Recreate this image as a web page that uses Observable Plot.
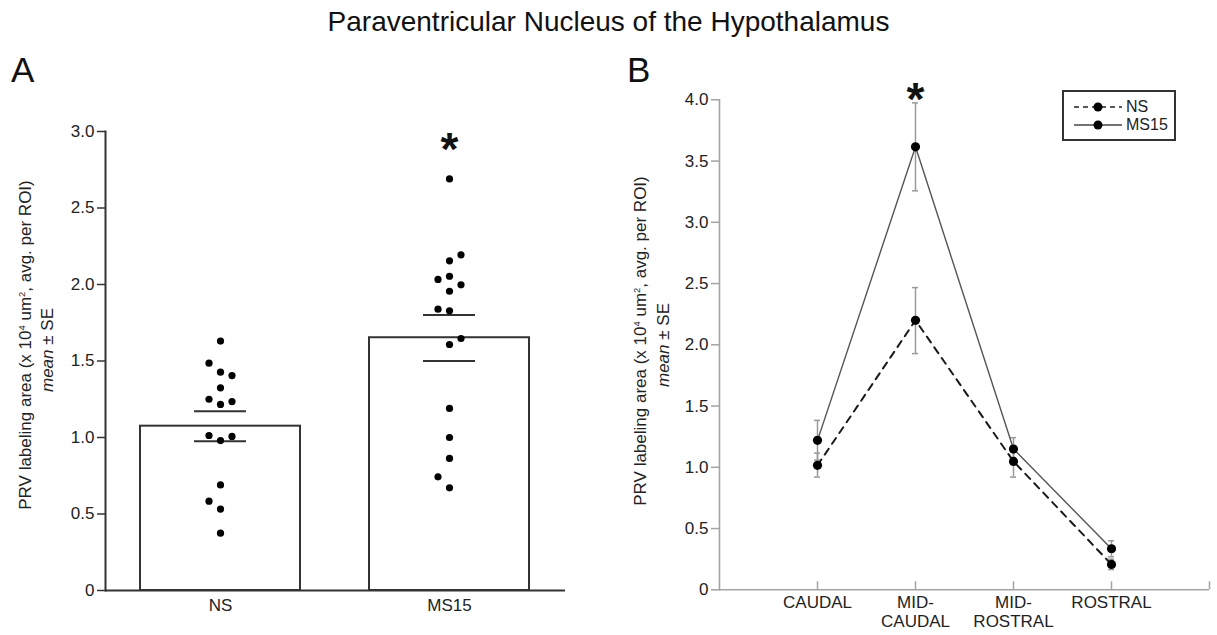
<!DOCTYPE html>
<html><head><meta charset="utf-8">
<script src="https://cdn.jsdelivr.net/npm/d3@7"></script>
<script src="https://cdn.jsdelivr.net/npm/@observablehq/plot@0.6"></script>
<style>
body{margin:0;background:#fff;font-family:"Liberation Sans",Arial,sans-serif;}
#fig{position:relative;width:1217px;height:635px;overflow:hidden;background:#fff;}
.abs{position:absolute;}
#title{left:0;width:1217px;top:8px;text-align:center;font-size:28px;line-height:28px;color:#111;}
.letter{font-size:35px;line-height:35px;color:#111;}
.ylab{position:absolute;white-space:nowrap;font-size:17px;line-height:1;color:#222;transform:translate(-50%,-50%) rotate(-90deg);}
.ylab sup{font-size:0.55em;vertical-align:0.6em;line-height:0;}
#legend{left:1062px;top:90px;width:114px;height:51px;border:2px solid #333;box-sizing:border-box;}
.lrow{position:absolute;left:0;height:16px;display:flex;align-items:center;font-size:16px;color:#222;}
.lrow svg{margin-left:10px;margin-right:4px;}
</style></head>
<body><div id="fig">
<div id="title" class="abs">Paraventricular Nucleus of the Hypothalamus</div>
<div class="abs letter" style="left:11px;top:52px">A</div>
<div class="abs letter" style="left:627px;top:52px">B</div>
<div class="ylab" style="left:25px;top:345px">PRV labeling area (x 10<sup>4</sup> um<sup>2</sup>, avg. per ROI)</div>
<div class="ylab" style="left:47px;top:350px"><i>mean</i> ± SE</div>
<div class="ylab" style="left:640px;top:341px">PRV labeling area (x 10<sup>4</sup> um<sup>2</sup>, avg. per ROI)</div>
<div class="ylab" style="left:663px;top:345px"><i>mean</i> ± SE</div>
<div id="panelA" class="abs" style="left:0;top:100px"></div>
<div id="panelB" class="abs" style="left:640px;top:60px"></div>
<div id="legend" class="abs">
  <div class="lrow" style="top:7px"><svg width="48" height="12"><line x1="0" y1="6" x2="48" y2="6" stroke="#222" stroke-width="1.6" stroke-dasharray="5,4"/><circle cx="24" cy="6" r="4.5" fill="#000"/></svg><span>NS</span></div>
  <div class="lrow" style="top:25px"><svg width="48" height="12"><line x1="0" y1="6" x2="48" y2="6" stroke="#444" stroke-width="1.4"/><circle cx="24" cy="6" r="4.5" fill="#000"/></svg><span>MS15</span></div>
</div>
</div>
<script>
// ---------- Panel A data ----------
const groups = ["NS", "MS15"];
const groupMeans = [1.074, 1.652];
const groupSeLow = [0.976, 1.50];
const groupSeHigh = [1.172, 1.80];
const nsValues = [1.63, 1.486, 1.427, 1.405, 1.325, 1.25, 1.216, 1.235, 1.013, 1.007, 0.98, 0.69, 0.584, 0.532, 0.375];
const nsColumns = [0, -1, 0, 1, 0, -1, 0, 1, -1, 1, 0, 0, -1, 0, 0];
const ms15Values = [2.69, 2.194, 2.155, 2.033, 2.054, 1.998, 1.956, 1.839, 1.828, 1.647, 1.608, 1.19, 1.0, 0.863, 0.743, 0.671];
const ms15Columns = [0, 1, 0, -1, 0, 1, 0, -1, 0, 1, 0, 0, 0, 0, -1, 0];
const yTicksA = [0, 0.5, 1.0, 1.5, 2.0, 2.5, 3.0];
const sigA = [{group: "MS15", y: 2.88}];

// ---------- Panel B data ----------
const regions = ["CAUDAL", "MID-CAUDAL", "MID-ROSTRAL", "ROSTRAL"];
const regionLabels = ["CAUDAL", "MID-\nCAUDAL", "MID-\nROSTRAL", "ROSTRAL"];
const nsMean = [1.016, 2.20, 1.048, 0.207];
const nsLow = [0.92, 1.928, 0.92, 0.165];
const nsHigh = [1.116, 2.467, 1.176, 0.25];
const msMean = [1.22, 3.616, 1.149, 0.335];
const msLow = [1.06, 3.257, 1.056, 0.27];
const msHigh = [1.383, 3.975, 1.242, 0.40];
const yTicksB = [0, 0.5, 1.0, 1.5, 2.0, 2.5, 3.0, 3.5, 4.0];
const sigB = [{region: "MID-CAUDAL", y: 4.0}];

const font = '"Liberation Sans", Arial, sans-serif';
const fmt = d => d === 0 ? "0" : d.toFixed(1);

// ---------- Panel A ----------
const bars = groups.map((g, i) => ({group: g, mean: groupMeans[i], lo: groupSeLow[i], hi: groupSeHigh[i]}));
const points = [
  ...nsValues.map((v, i) => ({group: "NS", value: v, col: nsColumns[i]})),
  ...ms15Values.map((v, i) => ({group: "MS15", value: v, col: ms15Columns[i]}))
];
const dark = "#333";
const plotA = Plot.plot({
  width: 580, height: 535,
  marginLeft: 105, marginRight: 15, marginTop: 31, marginBottom: 45,
  style: {fontFamily: font, fontSize: "17px", color: "#222", background: "transparent", overflow: "visible"},
  x: {domain: groups, paddingInner: 0.30, paddingOuter: 0.152, label: null},
  y: {domain: [0, 3], label: null},
  marks: [
    Plot.barY(bars, {x: "group", y: "mean", fill: "white", stroke: dark, strokeWidth: 2}),
    Plot.tickY(bars, {x: "group", y: "lo", insetLeft: 54, insetRight: 54, stroke: dark, strokeWidth: 2}),
    Plot.tickY(bars, {x: "group", y: "hi", insetLeft: 54, insetRight: 54, stroke: dark, strokeWidth: 2}),
    ...[-1, 0, 1].map(c => Plot.dot(points.filter(p => p.col === c), {x: "group", y: "value", dx: c * 11.5, r: 3.6, fill: "#000", stroke: null})),
    Plot.ruleY([0], {stroke: dark, strokeWidth: 2}),
    Plot.frame({anchor: "left", stroke: dark, strokeWidth: 2}),
    Plot.axisY({ticks: yTicksA, tickFormat: fmt, tickSize: 8, tickPadding: 3, stroke: dark, strokeWidth: 1.5, fill: "#222", fontSize: 17, label: null}),
    Plot.axisX({tickSize: 0, tickPadding: 8, fill: "#222", fontSize: 17, label: null}),
    Plot.text(sigA, {x: "group", y: "y", text: () => "*", fontSize: 46, fontWeight: "bold", fill: "#111", lineAnchor: "middle"})
  ]
});
document.getElementById("panelA").append(plotA);

// ---------- Panel B ----------
const rowsB = [];
regions.forEach((r, i) => {
  rowsB.push({series: "NS", pos: i + 1, mean: nsMean[i], lo: nsLow[i], hi: nsHigh[i]});
  rowsB.push({series: "MS15", pos: i + 1, mean: msMean[i], lo: msLow[i], hi: msHigh[i]});
});
const nsRows = rowsB.filter(d => d.series === "NS");
const msRows = rowsB.filter(d => d.series === "MS15");
const axisGray = "#a3a3a3";
const errGray = "#9a9a9a";
const plotB = Plot.plot({
  width: 577, height: 575,
  marginLeft: 79, marginRight: 8, marginTop: 39.3, marginBottom: 45.7,
  style: {fontFamily: font, fontSize: "17px", color: "#222", background: "transparent", overflow: "visible"},
  x: {type: "linear", domain: [0, regions.length + 1], label: null},
  y: {domain: [0, 4], label: null},
  marks: [
    Plot.ruleY([0], {stroke: axisGray, strokeWidth: 1.6}),
    Plot.frame({anchor: "left", stroke: axisGray, strokeWidth: 1.6}),
    Plot.ruleX(d3.range(1, regions.length + 2), {y1: 0, y2: 0, insetTop: -8, stroke: axisGray, strokeWidth: 1.5}),
    Plot.axisY({ticks: yTicksB, tickFormat: fmt, tickSize: 8, tickPadding: 3, stroke: axisGray, strokeWidth: 1.5, fill: "#222", fontSize: 17, label: null}),
    Plot.axisX({ticks: d3.range(1, regions.length + 1), tickFormat: i => regionLabels[i - 1], tickSize: 0, tickPadding: 5, fill: "#222", fontSize: 17, lineHeight: 1.12, label: null}),
    Plot.ruleX(rowsB, {x: "pos", y1: "lo", y2: "hi", stroke: errGray, strokeWidth: 1.5}),
    Plot.ruleY(rowsB, {x1: "pos", x2: "pos", y: "hi", insetLeft: -3, insetRight: -3, stroke: errGray, strokeWidth: 1.5}),
    Plot.ruleY(rowsB, {x1: "pos", x2: "pos", y: "lo", insetLeft: -3, insetRight: -3, stroke: errGray, strokeWidth: 1.5}),
    Plot.line(nsRows, {x: "pos", y: "mean", stroke: "#1a1a1a", strokeWidth: 2, strokeDasharray: "7,6"}),
    Plot.line(msRows, {x: "pos", y: "mean", stroke: "#555", strokeWidth: 1.4}),
    Plot.dot(rowsB, {x: "pos", y: "mean", r: 4.6, fill: "#000", stroke: null}),
    Plot.text(sigB, {x: d => regions.indexOf(d.region) + 1, y: "y", text: () => "*", fontSize: 46, fontWeight: "bold", fill: "#111", lineAnchor: "middle"})
  ]
});
document.getElementById("panelB").append(plotB);
</script>
</body></html>
